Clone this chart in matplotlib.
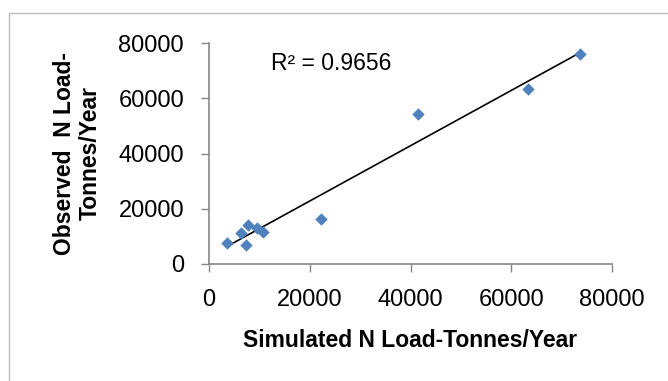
import numpy as np
import matplotlib
matplotlib.use("Agg")
import matplotlib.pyplot as plt
from matplotlib.patches import Rectangle

# values
simulated = [3630, 6270, 7720, 7330, 9570, 10760, 22240, 41450, 63370, 73600]
observed = [7710, 11100, 14100, 6880, 12900, 11580, 16170, 54400, 63230, 75900]
x_ticks = [0, 20000, 40000, 60000, 80000]
y_ticks = [0, 20000, 40000, 60000, 80000]
r2_label = "R\u00b2 = 0.9656"

plt.rcParams["font.family"] = ["Liberation Sans", "DejaVu Sans"]

fig = plt.figure(figsize=(6.68, 3.81), dpi=100)
fig.patches.append(Rectangle((9 / 668, -0.05), 1.2, (381 - 13) / 381 + 0.05,
                             transform=fig.transFigure, fill=False,
                             edgecolor="#bfbfbf", linewidth=1.0))

ax = fig.add_axes([209 / 668, 117 / 381, 403 / 668, 221 / 381])

x = np.array(simulated, dtype=float)
y = np.array(observed, dtype=float)
slope, intercept = np.polyfit(x, y, 1)
xs = np.array([x.min(), x.max()])
ax.plot(xs, slope * xs + intercept, color="black", linewidth=1.2, zorder=2)
ax.scatter(x, y, marker="D", s=40, color="#4f81bd", linewidths=0, zorder=3)

ax.text(12300, 72700, r2_label, fontsize=16.5, va="center", ha="left")

ax.set_xlim(0, 80000)
ax.set_ylim(0, 80000)
ax.set_xticks(x_ticks)
ax.set_yticks(y_ticks)
ax.tick_params(axis="both", labelsize=17, color="#868686", length=6,
               width=1.0, direction="out")
ax.tick_params(axis="x", pad=12)
ax.tick_params(axis="y", pad=12)
for side in ["top", "right"]:
    ax.spines[side].set_visible(False)
for side in ["left", "bottom"]:
    ax.spines[side].set_color("#868686")
    ax.spines[side].set_linewidth(1.2)

ax.set_xlabel("Simulated N Load-Tonnes/Year", fontsize=16.5, fontweight="bold",
              labelpad=13)
ax.set_ylabel("Observed  N Load-\nTonnes/Year", fontsize=16.5, fontweight="bold",
              labelpad=12, linespacing=1.15)

fig.savefig("out.png", dpi=100)
plt.close(fig)
